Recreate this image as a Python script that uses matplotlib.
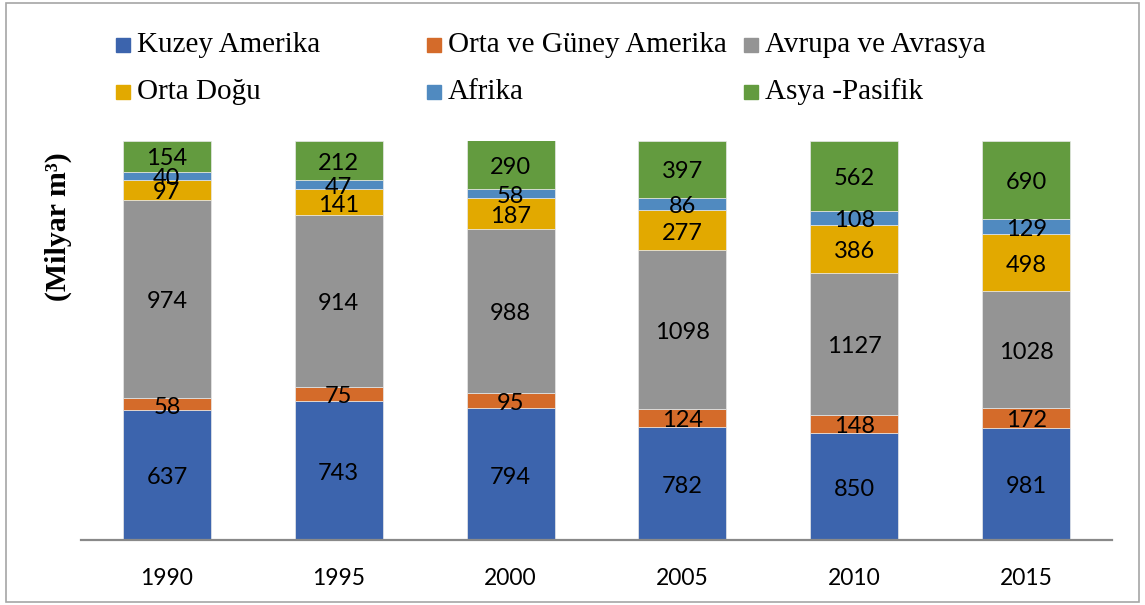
import matplotlib
matplotlib.use("Agg")
import matplotlib.pyplot as plt
from matplotlib.patches import Rectangle
import numpy as np

years = ["1990", "1995", "2000", "2005", "2010", "2015"]
series_names = ["Kuzey Amerika", "Orta ve Güney Amerika", "Avrupa ve Avrasya",
                "Orta Doğu", "Afrika", "Asya -Pasifik"]
kuzey_amerika = [637, 743, 794, 782, 850, 981]
orta_guney_amerika = [58, 75, 95, 124, 148, 172]
avrupa_avrasya = [974, 914, 988, 1098, 1127, 1028]
orta_dogu = [97, 141, 187, 277, 386, 498]
afrika = [40, 47, 58, 86, 108, 129]
asya_pasifik = [154, 212, 290, 397, 562, 690]
colors = ["#3C64AD", "#D46B2A", "#949494", "#E2A900", "#508AC0", "#639B3F"]

W, H = 1145, 605
fig = plt.figure(figsize=(W / 100, H / 100), dpi=100)

def fx(px):
    return px / W

def fy(py):
    return 1 - py / H

ax = fig.add_axes([fx(81), fy(540), fx(1112) - fx(81), fy(140.5) - fy(540)])

data = [kuzey_amerika, orta_guney_amerika, avrupa_avrasya, orta_dogu, afrika, asya_pasifik]
arr = np.array(data, dtype=float)
totals = arr.sum(axis=0)
frac = arr / totals
x = np.arange(len(years))
bottom = np.zeros(len(years))
for vals, fr, col in zip(data, frac, colors):
    ax.bar(x, fr, 0.512, bottom=bottom, color=col, edgecolor="#e8e8e8", linewidth=0.5)
    for xi, b, f, v in zip(x, bottom, fr, vals):
        ax.annotate(str(v), (xi, b + f / 2), xytext=(0, -2), textcoords="offset points",
                    ha="center", va="center", fontsize=17, family="Lato", color="black")
    bottom += fr

ax.set_xlim(-0.5, len(years) - 0.5)
ax.set_ylim(0, 1)
ax.set_yticks([])
ax.set_xticks(x)
ax.set_xticklabels(years, fontsize=16.5, family="Lato")
ax.tick_params(axis="x", length=0, pad=20)
for s in ["top", "left", "right"]:
    ax.spines[s].set_visible(False)
ax.spines["bottom"].set_color("#898989")
ax.spines["bottom"].set_linewidth(1.6)
ax.patch.set_visible(False)

# y label
fig.text(fx(58), fy(227), "(Milyar m³)", rotation=90, ha="center", va="center",
         fontsize=21.5, family="Liberation Serif", fontweight="bold")

# legend (manual, row-wise, equal columns)
col_x = [116, 427, 744]
row_y = [45, 92]
for i, (name, col) in enumerate(zip(series_names, colors)):
    r, c = divmod(i, 3)
    mx, my = col_x[c], row_y[r]
    fig.patches.append(Rectangle((fx(mx), fy(my + 7)), fx(14), 14 / H,
                                 transform=fig.transFigure, color=col))
    fig.text(fx(mx + 21), fy(my), name, ha="left", va="center",
             fontsize=21, family="Liberation Serif")

# outer border
fig.patches.append(Rectangle((fx(6), fy(602)), fx(1139) - fx(6), fy(3) - fy(602),
                             transform=fig.transFigure, fill=False,
                             edgecolor="#a6a6a6", linewidth=1.2))

fig.savefig("out.png", dpi=100)
